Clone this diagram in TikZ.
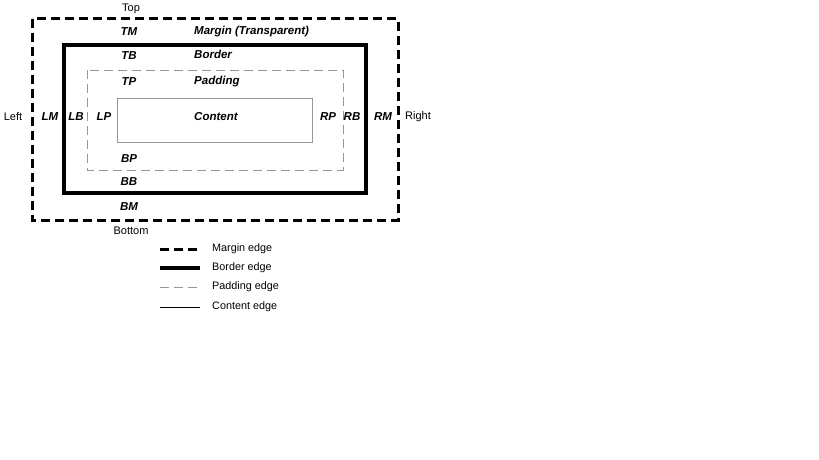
\documentclass[tikz,border=0pt]{standalone}
\usepackage{fontspec}
\setmainfont{Liberation Sans}
\usepackage{xcolor}
\usetikzlibrary{positioning}
\definecolor{padgray}{RGB}{150,150,150}

\begin{document}
\begin{tikzpicture}[x=1pt, y=-1pt,
    lbl/.style={font=\fontsize{11.5}{13}\selectfont\bfseries\itshape, inner sep=0pt},
    side/.style={font=\fontsize{11}{13}\selectfont, inner sep=0pt},
    keytext/.style={font=\fontsize{10.8}{12}\selectfont, inner sep=0pt, anchor=west},
    marginedge/.style={line width=3pt, dash pattern=on 9pt off 5pt},
    borderedge/.style={line width=3.5pt},
    paddingedge/.style={draw=padgray, line width=0.8pt, dash pattern=on 9pt off 5pt},
    contentedge/.style={draw=padgray, line width=0.8pt}
]
    \useasboundingbox (0,0) rectangle (819,460);

    % the four edges
    \draw[marginedge] (32,19) rectangle (398,220);
    \draw[borderedge] (64,45) rectangle (366,193);
    \draw[paddingedge] (87,70) rectangle (343,170);
    \draw[contentedge] (117,98) rectangle (312,142);

    % top column
    \node[side] (top) at (131,9) {Top};
    \node[lbl] (tm) at (129,32) {TM};
    \node[lbl] (tb) at (129,56) {TB};
    \node[lbl] (tp) at (129,82) {TP};
    \node[lbl] (bp) at (129,159) {BP};
    \node[lbl] (bb) at (129,182) {BB};
    \node[lbl] (bm) at (129,207) {BM};
    \node[side] (bottom) at (131,231) {Bottom};

    % names of the areas
    \node[lbl, anchor=west] (margin) at (194,32) {Margin (Transparent)};
    \node[lbl, anchor=west] (border) at (194,54) {Border};
    \node[lbl, anchor=west] (padding) at (194,82) {Padding};
    \node[lbl, anchor=west] (content) at (194,117) {Content};

    % middle row
    \node[side] (left) at (13,117) {Left};
    \node[lbl] (lm) at (50,117) {LM};
    \node[lbl] (lb) at (76,117) {LB};
    \node[lbl] (lp) at (104,117) {LP};
    \node[lbl] (rp) at (328,117) {RP};
    \node[lbl] (rb) at (352,117) {RB};
    \node[lbl] (rm) at (383,117) {RM};
    \node[side] (right) at (418,117) {Right};

    % key
    \coordinate (k1a) at (160,249); \coordinate (k1b) at (200,249);
    \coordinate (k2a) at (160,268); \coordinate (k2b) at (200,268);
    \coordinate (k3a) at (160,287); \coordinate (k3b) at (200,287);
    \coordinate (k4a) at (160,307); \coordinate (k4b) at (200,307);
    \draw[marginedge] (k1a) -- (k1b);
    \draw[borderedge] (k2a) -- (k2b);
    \draw[paddingedge] (k3a) -- (k3b);
    \draw[line width=0.8pt] (k4a) -- (k4b);
    \node[keytext] (kmargin) at (212,249) {Margin edge};
    \node[keytext] (kborder) at (212,268) {Border edge};
    \node[keytext] (kpadding) at (212,287) {Padding edge};
    \node[keytext] (kcontent) at (212,307) {Content edge};
\end{tikzpicture}
\end{document}
